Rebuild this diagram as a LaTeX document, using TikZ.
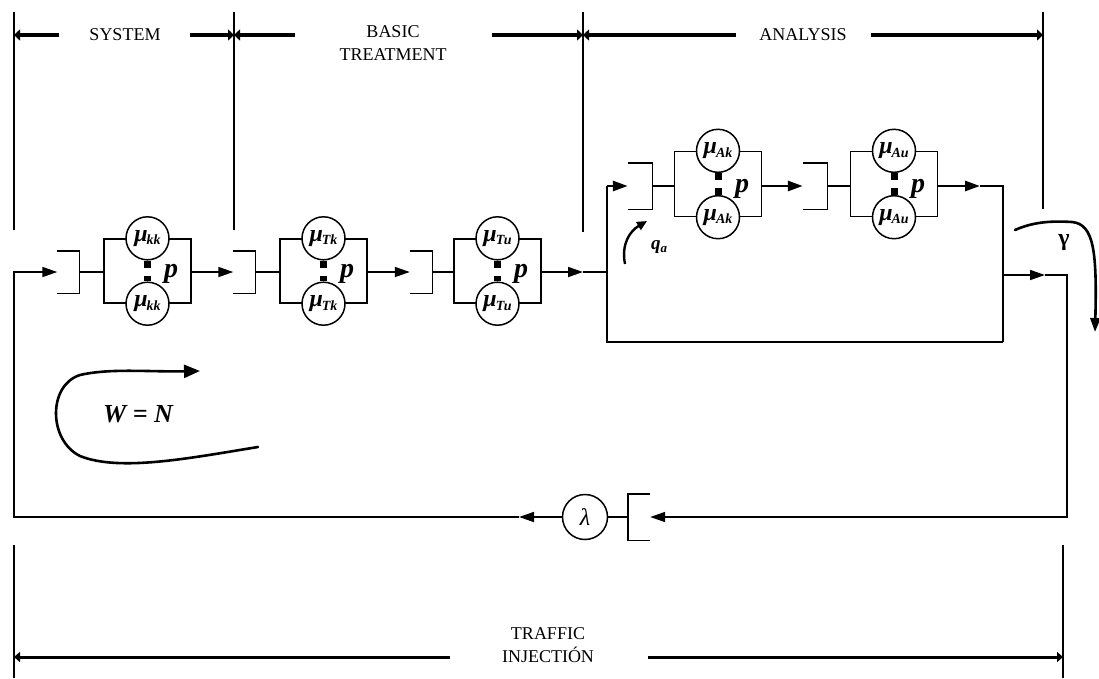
\documentclass[tikz,border=0pt]{standalone}
\usepackage{fontspec}
\setmainfont{Liberation Serif}
\usetikzlibrary{arrows.meta}
\newcommand\mulab[1]{{\bfseries\itshape\fontsize{24}{24}\selectfont μ\kern-1pt\raisebox{-3.5pt}{\fontsize{14}{14}\selectfont #1}}}
\begin{document}
\begin{tikzpicture}[x=1pt,y=-1pt,
  flow/.style={line width=1.7pt},
  loopline/.style={line width=2.8pt},
  tip/.style={-{Triangle[length=15pt,width=10pt]}},
  dim/.style={line width=4pt,-{Triangle[length=6pt,width=11pt]}},
  dimb/.style={line width=3pt,-{Triangle[length=6pt,width=10pt]}},
  guide/.style={line width=1.2pt},
  qbox/.style={draw,line width=1.4pt,minimum width=87pt,minimum height=64pt,inner sep=0pt},
  server/.style={circle,draw,line width=1.5pt,fill=white,minimum size=43pt,inner sep=0pt},
  brk/.style={minimum width=22pt,minimum height=42pt,inner sep=0pt},
  brkline/.style={line width=1.4pt},
  link/.style={line width=7pt,dash pattern=on 7pt off 8pt},
  lab/.style={font=\fontsize{18}{23}\selectfont, align=center, inner sep=0pt},
  plab/.style={font=\fontsize{28}{28}\selectfont\bfseries\itshape, inner sep=0pt, anchor=base},
  curvy/.style={line width=2.6pt, line cap=round},
]
\useasboundingbox (0,0) rectangle (1099,678);
\fill[white] (0,0) rectangle (1099,678);

% ---- guide lines ----
\draw[guide] (14,12) -- (14,230);
\draw[guide] (234,12) -- (234,230);
\draw[guide] (583,12) -- (583,232);
\draw[guide] (1043,12) -- (1043,209);
\draw[guide] (14,545) -- (14,678);
\draw[guide] (1063,545) -- (1063,678);

% ---- dimension labels ----
\node[lab] (sys) at (125,35) {SYSTEM};
\node[lab] (basic) at (393,43) {BASIC\\TREATMENT};
\node[lab] (ana) at (803,35) {ANALYSIS};
\node[lab] (traf) at (548,645) {TRAFFIC\\INJECTIÓN};
\coordinate (s1) at (59,35); \coordinate (s2) at (190,35);
\coordinate (b1) at (295,35); \coordinate (b2) at (492,35);
\coordinate (a1) at (736,35); \coordinate (a2) at (871,35);
\coordinate (t1) at (450,657); \coordinate (t2) at (648,657);
\draw[dim] (s1) -- (14,35);
\draw[dim] (s2) -- (234,35);
\draw[dim] (b1) -- (234,35);
\draw[dim] (b2) -- (583,35);
\draw[dim] (a1) -- (583,35);
\draw[dim] (a2) -- (1043,35);
\draw[dimb] (t1) -- (14,657);
\draw[dimb] (t2) -- (1063,657);

% ---- main row blocks ----
\node[brk] (br1) at (68.5,272) {};
\node[qbox] (box1) at (147.5,271) {};
\node[brk] (br2) at (244.5,272) {};
\node[qbox] (box2) at (323.5,271) {};
\node[brk] (br3) at (421,272) {};
\node[qbox] (box3) at (497.5,271) {};
% analysis row
\node[brk, minimum height=46pt, minimum width=24pt] (brA1) at (640,186) {};
\node[qbox, minimum height=65pt] (boxA1) at (718,184) {};
\node[brk, minimum height=46pt, minimum width=24pt] (brA2) at (815,186) {};
\node[qbox, minimum height=65pt] (boxA2) at (894,184) {};

\foreach \b in {br1,br2,br3,brA1,brA2}{
  \draw[brkline] (\b.north west) -- (\b.north east) -- (\b.south east) -- (\b.south west);
}

% servers
\node[server] (s1a) at (box1.north) {\mulab{kk}};
\node[server] (s1b) at (box1.south) {\mulab{kk}};
\node[server] (s2a) at (box2.north) {\mulab{Tk}};
\node[server] (s2b) at (box2.south) {\mulab{Tk}};
\node[server] (s3a) at (box3.north) {\mulab{Tu}};
\node[server] (s3b) at (box3.south) {\mulab{Tu}};
\node[server] (sAa) at (boxA1.north) {\mulab{Ak}};
\node[server] (sAb) at (boxA1.south) {\mulab{Ak}};
\node[server] (sBa) at (boxA2.north) {\mulab{Au}};
\node[server] (sBb) at (boxA2.south) {\mulab{Au}};

\foreach \u/\d in {s1a/s1b,s2a/s2b,s3a/s3b,sAa/sAb,sBa/sBb}{
  \draw[link] (\u) -- (\d);
}

\node[plab] (p1) at (171,277) {p};
\node[plab] (p2) at (347,277) {p};
\node[plab] (p3) at (521,277) {p};
\node[plab] (p4) at (742,192) {p};
\node[plab] (p5) at (918,192) {p};

% links bracket -> box
\draw[flow] (br1.east) -- (box1.west |- br1.east);
\draw[flow] (br2.east) -- (box2.west |- br2.east);
\draw[flow] (br3.east) -- (box3.west |- br3.east);
\draw[flow] (brA1.east) -- (boxA1.west |- brA1.east);
\draw[flow] (brA2.east) -- (boxA2.west |- brA2.east);

% arrows between blocks
\draw[flow,tip] (box1.east |- br2.west) -- (br2.west);
\draw[flow,tip] (box2.east |- br3.west) -- (br3.west);
\coordinate (g3) at (583,272);
\coordinate (j1) at (607,272);
\draw[flow,tip] (box3.east |- g3) -- (g3);
\draw[flow] (g3) -- (j1);

% analysis loop
\coordinate (j6) at (607,186);
\coordinate (j5) at (607,342);
\coordinate (j4) at (1003,342);
\coordinate (j2) at (1003,186);
\coordinate (j3) at (1003,275);
\coordinate (k1) at (980,186);
\draw[loopline] (j4) -- (j5) -- (j6);
\draw[loopline,tip] (j6) -- (brA1.west);
\draw[loopline,tip] (boxA1.east |- brA2.west) -- (brA2.west);
\draw[loopline,tip] (boxA2.east |- k1) -- (k1);
\draw[flow] (k1) -- (j2) -- (j4);

% output to injection
\coordinate (m1) at (1045,275);
\coordinate (c1) at (1067,275);
\coordinate (c2) at (1067,517);
\node[brk, minimum height=46pt, minimum width=22pt] (brl) at (639,517) {};
\draw[brkline] (brl.north east) -- (brl.north west) -- (brl.south west) -- (brl.south east);
\node[server, minimum size=45pt] (lam) at (585,517) {\fontsize{24}{24}\selectfont\itshape λ};
\draw[flow,tip] (j3) -- (m1);
\draw[flow,tip] (m1) -- (c1) -- (c2) -- (brl.east);
\draw[flow] (brl.west) -- (lam.east);
\coordinate (m2) at (519,517);
\coordinate (c3) at (14,517);
\draw[flow,tip] (lam.west) -- (m2);
\draw[flow,tip] (m2) -- (c3) |- (br1.west);

% q_a arrow
\draw[line width=2.4pt,-{Triangle[length=10pt,width=9pt]}] (625,264) .. controls (621,244) and (630,231) .. (647,221);
\node[inner sep=0pt, font=\fontsize{19}{19}\selectfont\bfseries\itshape] (qa) at (659,247) {q\raisebox{-3pt}{\fontsize{13}{13}\selectfont a}};

% gamma arrow
\draw[curvy,-{Triangle[length=14pt,width=10pt]}] (1015,230) .. controls (1035,221) and (1055,221) .. (1072,222) .. controls (1094,224) and (1097,252) .. (1095,332);
\node[inner sep=0pt, font=\fontsize{24}{24}\selectfont\bfseries] (gam) at (1064,243) {γ};

% W = N loop
\draw[curvy,-{Triangle[length=16pt,width=13pt]}] (258,447) .. controls (190,458) and (120,472) .. (80,456) .. controls (48,440) and (48,385) .. (80,375) .. controls (110,368) and (150,372) .. (200,371);
\node[inner sep=0pt, font=\fontsize{26}{26}\selectfont\bfseries\itshape] (wn) at (138,414) {W = N};
\end{tikzpicture}
\end{document}
